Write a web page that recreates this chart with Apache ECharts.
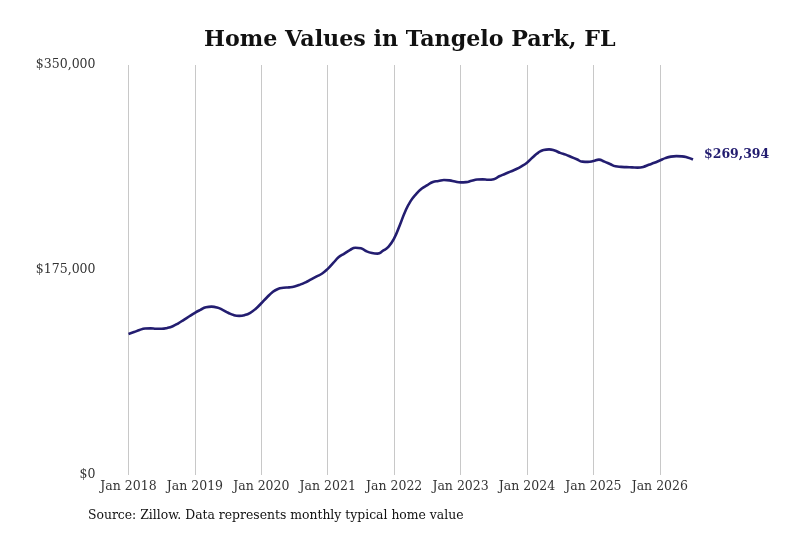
<!DOCTYPE html>
<html>
<head>
<meta charset="utf-8">
<title>Home Values in Tangelo Park, FL</title>
<script src="https://cdn.jsdelivr.net/npm/echarts@6/dist/echarts.min.js"></script>
<style>
  html, body { margin: 0; padding: 0; background: #fff; }
  #chart { width: 800px; height: 533px; }
</style>
</head>
<body>
<div id="chart"></div>
<script>
  // monthly typical home value, Jan 2018 - Jul 2026
  const startYear = 2018;
  const values = [
    // 2018
    120400, 122000, 123800, 125000, 125200, 124800, 124800, 125500, 127000, 129500, 132500, 135500,
    // 2019
    138500, 141000, 143200, 143700, 143000, 141000, 138500, 136500, 135800, 136500, 138500, 142000,
    // 2020
    146600, 151500, 156000, 158800, 159800, 160200, 161000, 162500, 164500, 167000, 169500, 172000,
    // 2021
    176000, 181000, 186000, 189000, 192000, 194000, 193500, 191000, 189500, 189000, 191500, 195000,
    // 2022
    202000, 213000, 225000, 234000, 240000, 244500, 247500, 250200, 251000, 251800, 251500, 250500,
    // 2023
    249800, 250000, 251200, 252200, 252400, 252000, 252500, 255000, 257000, 259000, 261000, 263500,
    // 2024
    266600, 271000, 275000, 277500, 278000, 277000, 275000, 273500, 271500, 269500, 267500, 267300,
    // 2025
    268000, 269200, 267500, 265500, 263500, 263000, 262800, 262600, 262400, 263000, 264800, 266500,
    // 2026
    268500, 270500, 271800, 272200, 272000, 271000, 269394,
  ];
  const yTicks = [0, 175000, 350000];
  const monthNames = ["Jan", "Feb", "Mar", "Apr", "May", "Jun", "Jul", "Aug", "Sep", "Oct", "Nov", "Dec"];

  const months = values.map((v, i) => monthNames[i % 12] + " " + (startYear + Math.floor(i / 12)));

  const lineColor = "#231d70";
  const font = "DejaVu Serif";
  const fmtMoney = (v) => "$" + Math.round(v).toLocaleString("en-US");

  const chart = echarts.init(document.getElementById("chart"));
  chart.setOption({
    animation: false,
    textStyle: { fontFamily: font },
    title: {
      text: "Home Values in Tangelo Park, FL",
      left: 199,
      top: 24,
      textStyle: { fontFamily: font, fontSize: 22.2, fontWeight: "bold", color: "#111" },
    },
    grid: { left: 128.5, right: 107, top: 65, bottom: 58 },
    xAxis: {
      type: "category",
      boundaryGap: false,
      data: months,
      axisLine: { show: false },
      axisTick: { show: false },
      axisLabel: {
        interval: (i) => i % 12 === 0,
        margin: 5,
        fontSize: 12.5,
        color: "#333",
        fontFamily: font,
      },
      splitLine: {
        show: true,
        interval: (i) => i % 12 === 0,
        lineStyle: { color: "#c8c8c8", width: 1 },
      },
    },
    yAxis: {
      type: "value",
      min: yTicks[0],
      max: yTicks[yTicks.length - 1],
      interval: yTicks[1] - yTicks[0],
      axisLine: { show: false },
      axisTick: { show: false },
      splitLine: { show: false },
      axisLabel: {
        margin: 33,
        fontSize: 12.5,
        color: "#333",
        fontFamily: font,
        formatter: fmtMoney,
      },
    },
    series: [
      {
        type: "line",
        data: values,
        smooth: 0.5,
        showSymbol: false,
        lineStyle: { color: lineColor, width: 2.6 },
        endLabel: {
          show: true,
          distance: 11,
          offset: [0, -5],
          formatter: (p) => fmtMoney(p.value),
          color: lineColor,
          fontWeight: "bold",
          fontSize: 12.5,
          fontFamily: font,
        },
      },
    ],
    graphic: [
      {
        type: "text",
        left: 88,
        top: 510,
        style: {
          text: "Source: Zillow. Data represents monthly typical home value",
          fontSize: 12.4,
          fontFamily: font,
          fill: "#111",
        },
      },
    ],
  });
</script>
</body>
</html>
